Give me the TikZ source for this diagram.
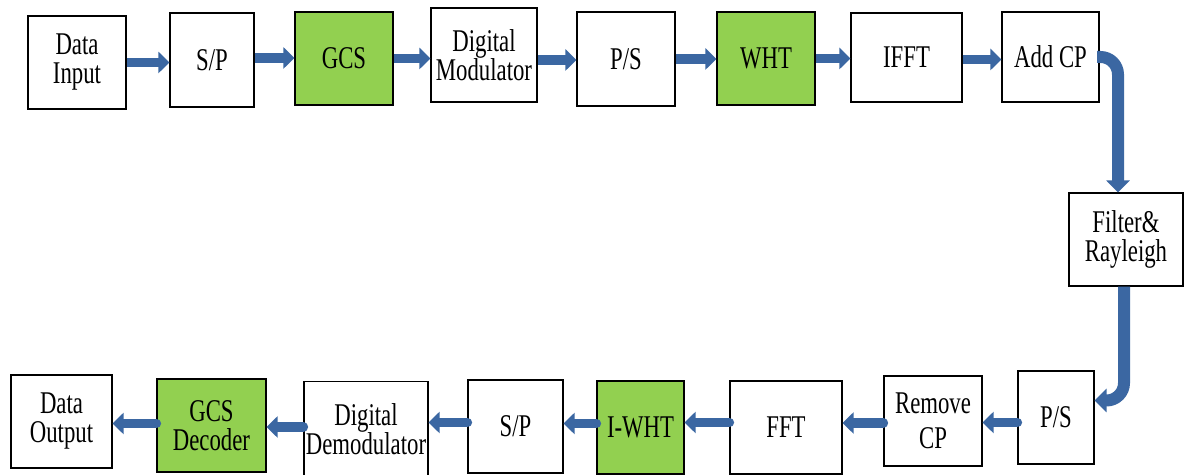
\documentclass[tikz,border=0pt]{standalone}
\usepackage{fontspec}
\setmainfont{Liberation Serif}[FakeStretch=0.72]
\usetikzlibrary{arrows.meta}
\definecolor{boxgreen}{HTML}{92D050}
\definecolor{arrowblue}{HTML}{3B67A2}
\tikzset{
  blk/.style={draw=black, line width=0.7pt, fill=white, align=center, inner sep=0pt,
    font=\fontsize{18}{16.5}\selectfont},
  grn/.style={blk, fill=boxgreen},
  arr/.style={draw=arrowblue, line width=0.19cm, -{Triangle[length=0.22cm,width=0.42cm]}},
  arrl/.style={arr, line cap=round},
  bendarrow/.style={draw=arrowblue, line width=0.24cm, rounded corners=0.35cm, -{Triangle[length=0.24cm,width=0.46cm]}}
}
\begin{document}
\begin{tikzpicture}[x=0.02cm, y=-0.02cm]
\useasboundingbox (0,0) rectangle (1184,475);
% top row
\node[blk, minimum width=1.96cm, minimum height=1.86cm] (din) at (77,62.5) {Data\\Input};
\node[blk, minimum width=1.68cm, minimum height=1.88cm] (sp1) at (212,60) {S/P};
\node[grn, minimum width=1.96cm, minimum height=1.86cm] (gcs) at (344,58.5) {GCS};
\node[blk, minimum width=2.12cm, minimum height=1.88cm] (dmod) at (484,55) {Digital\\Modulator};
\node[blk, minimum width=1.96cm, minimum height=1.88cm] (ps1) at (626,59) {P/S};
\node[grn, minimum width=1.96cm, minimum height=1.86cm] (wht) at (766,58.5) {WHT};
\node[blk, minimum width=2.22cm, minimum height=1.78cm] (ifft) at (906.5,57.5) {IFFT};
\node[blk, minimum width=1.94cm, minimum height=1.80cm] (addcp) at (1050.5,57) {Add CP};
% right
\node[blk, minimum width=2.28cm, minimum height=1.86cm] (filt) at (1126,239.5) {Filter\&\\Rayleigh};
% bottom row
\node[blk, minimum width=1.52cm, minimum height=1.86cm] (ps2) at (1056,417.5) {P/S};
\node[blk, minimum width=1.96cm, minimum height=1.80cm, font=\fontsize{18}{20}\selectfont] (rcp) at (933,421) {Remove\\CP};
\node[blk, minimum width=2.24cm, minimum height=1.86cm] (fft) at (786,427.5) {FFT};
\node[grn, minimum width=1.74cm, minimum height=1.86cm] (iwht) at (640.5,427.5) {I-WHT};
\node[blk, minimum width=1.90cm, minimum height=1.86cm] (sp2) at (515.5,426.5) {S/P};
\node[blk, minimum width=2.48cm, minimum height=1.90cm] (ddem) at (366,429) {Digital\\Demodulator};
\node[grn, minimum width=2.18cm, minimum height=1.86cm] (gcsd) at (211.5,425.5) {GCS\\Decoder};
\node[blk, minimum width=2.02cm, minimum height=1.86cm] (dout) at (61.5,421.5) {Data\\Output};
% top arrows
\draw[arr] (din.east) -- (din.east -| sp1.west);
\draw[arr] ([yshift=0.04cm]sp1.east) -- ([yshift=0.04cm]sp1.east -| gcs.west);
\draw[arr] (gcs.east) -- (gcs.east -| dmod.west);
\draw[arr] ([yshift=-0.1cm]dmod.east) -- ([yshift=-0.1cm]dmod.east -| ps1.west);
\draw[arr] (ps1.east) -- (ps1.east -| wht.west);
\draw[arr] (wht.east) -- (wht.east -| ifft.west);
\draw[arr] ([yshift=-0.04cm]ifft.east) -- ([yshift=-0.04cm]ifft.east -| addcp.west);
% bends
\draw[bendarrow] ([xshift=-0.05cm]addcp.east) -| ([xshift=-0.16cm]filt.north);
\draw[bendarrow] ([xshift=-0.04cm]filt.south) |- ([yshift=0.34cm]ps2.east);
% bottom arrows
\draw[arrl] ([yshift=-0.1cm]ps2.west) -- ([yshift=-0.1cm]ps2.west -| rcp.east);
\draw[arrl] ([yshift=-0.04cm]rcp.west) -- ([yshift=-0.04cm]rcp.west -| fft.east);
\draw[arrl] ([yshift=0.1cm]fft.west) -- ([yshift=0.1cm]fft.west -| iwht.east);
\draw[arrl] ([yshift=0.08cm]iwht.west) -- ([yshift=0.08cm]iwht.west -| sp2.east);
\draw[arrl] ([yshift=0.08cm]sp2.west) -- ([yshift=0.08cm]sp2.west -| ddem.east);
\draw[arrl] ([yshift=0.04cm]ddem.west) -- ([yshift=0.04cm]ddem.west -| gcsd.east);
\draw[arrl] ([yshift=0.04cm]gcsd.west) -- ([yshift=0.04cm]gcsd.west -| dout.east);
\end{tikzpicture}
\end{document}
